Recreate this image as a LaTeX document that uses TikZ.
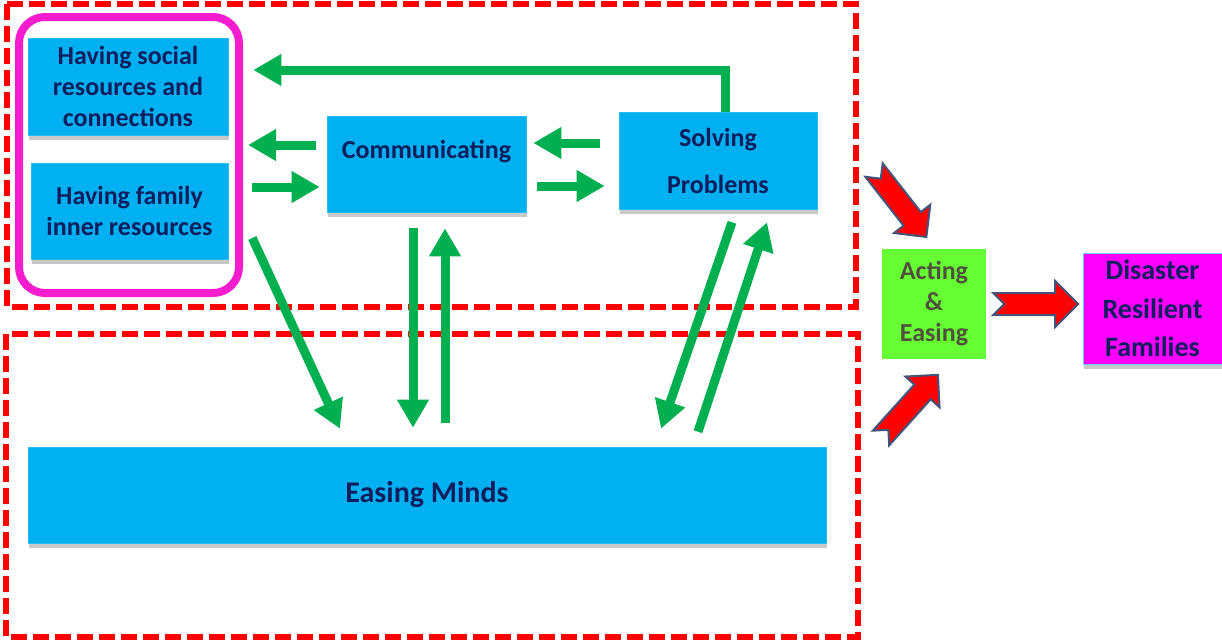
\documentclass[tikz,border=0pt]{standalone}
\usepackage{fontspec}
\setmainfont{Carlito}
\usetikzlibrary{arrows.meta,positioning,shadows}
\definecolor{boxblue}{RGB}{0,176,240}
\definecolor{txtnavy}{RGB}{15,30,95}
\definecolor{arrgreen}{RGB}{0,176,80}
\definecolor{actgreen}{RGB}{102,255,51}
\definecolor{actgrey}{RGB}{80,80,60}
\definecolor{grpmag}{RGB}{245,28,205}
\definecolor{dismag}{RGB}{255,0,255}
\definecolor{arredge}{RGB}{68,84,120}

\begin{document}
\begin{tikzpicture}[
    x=1pt, y=-1pt,
    bbox/.style   ={fill=boxblue, draw=boxblue!85!white, line width=0.6pt, inner sep=0pt,
                    drop shadow={shadow xshift=1pt, shadow yshift=-5pt, opacity=0.3, fill=black!70}},
    btxt/.style   ={font=\fontsize{26}{31}\selectfont\bfseries, text=txtnavy, align=center},
    garr/.style   ={draw=arrgreen, line width=9pt, -{Triangle[length=28pt,width=30pt]}},
    frame/.style  ={draw=red, line width=5.5pt, dash pattern=on 16pt off 6pt},
    redarr/.style ={fill=red, draw=arredge, line width=2pt, line join=miter},
    blockarr/.pic ={\draw[redarr] (0,-11) -- (62,-11) -- (62,-23) -- (85,0) -- (62,23) -- (62,11) -- (0,11) -- (11,0) -- cycle;}
]
\useasboundingbox (0,0) rectangle (1222,640);

% dashed frames
\draw[frame] (7,4) rectangle (856,307);
\draw[frame] (6,334) rectangle (858,637);

% resources group
\node[draw=grpmag, line width=8pt, rounded corners=26pt, minimum width=220pt, minimum height=276pt] (grp) at (129,155) {};
\node[bbox, btxt, minimum width=200pt, minimum height=97pt] (social) at (128,86.5) {Having social\\resources and\\connections};
\node[bbox, btxt, minimum width=197pt, minimum height=96pt] (family) at (129.5,211) {Having family\\inner resources};

% middle and right boxes
\node[bbox, minimum width=199pt, minimum height=96pt] (comm) at (426.5,164) {};
\node[btxt] (commtxt) at (426.5,152) {Communicating};
\node[bbox, btxt, minimum width=198pt, minimum height=97pt] (solve) at (718,160.5) {Solving\\[16pt]Problems};

% bottom box
\node[bbox, minimum width=798pt, minimum height=96pt, font=\fontsize{30}{36}\selectfont\bfseries, text=txtnavy] (ease) at (427,495) {Easing Minds};

% outcome boxes
\node[fill=actgreen, minimum width=104pt, minimum height=110pt, inner sep=0pt, align=center,
      font=\fontsize{26}{31}\selectfont\bfseries, text=actgrey] (act) at (934,304) {Acting\\\&\\Easing};
\node[fill=dismag, draw=boxblue!60!white, line width=1pt, minimum width=139pt, minimum height=111pt, inner sep=0pt, align=center,
      drop shadow={shadow xshift=1pt, shadow yshift=-5pt, opacity=0.3, fill=black!70},
      font=\fontsize{28}{38.5}\selectfont\bfseries, text=txtnavy] (dis) at (1152.5,308.5) {Disaster\\Resilient\\Families};

% feedback loop on top
\draw[garr] ([xshift=7pt]solve.north) |- ([xshift=25pt,yshift=16.5pt]social.east);

% horizontal pairs
\draw[garr] ([xshift=-11pt,yshift=19pt]comm.west) -- ([xshift=5pt,yshift=10pt]grp.east);
\draw[garr] ([xshift=9pt,yshift=-32pt]grp.east) -- ([xshift=-7pt,yshift=-23pt]comm.west);
\draw[garr] ([xshift=-19pt,yshift=17.5pt]solve.west) -- ([xshift=7pt,yshift=21pt]comm.east);
\draw[garr] ([xshift=11pt,yshift=-22pt]comm.east) -- ([xshift=-14pt,yshift=-25.5pt]solve.west);

% to and from easing minds
\draw[garr] ([xshift=24pt,yshift=-27pt]family.east) -- ([xshift=-87pt,yshift=18pt]ease.north);
\draw[garr] ([xshift=-13.5pt,yshift=-16pt]comm.south) -- ([xshift=-14pt,yshift=19pt]ease.north);
\draw[garr] ([xshift=18pt,yshift=24pt]ease.north) -- ([xshift=18.5pt,yshift=-16pt]comm.south);
\draw[garr] ([xshift=14pt,yshift=-13pt]solve.south) -- ([xshift=234pt,yshift=18pt]ease.north);
\draw[garr] ([xshift=271pt,yshift=15pt]ease.north) -- ([xshift=49pt,yshift=-13pt]solve.south);

% block arrows
\pic[rotate=-52] at (874,170) {blockarr};
\pic[rotate=48] at (881,438) {blockarr};
\pic at ([xshift=7pt]act.east) {blockarr};
\end{tikzpicture}
\end{document}
